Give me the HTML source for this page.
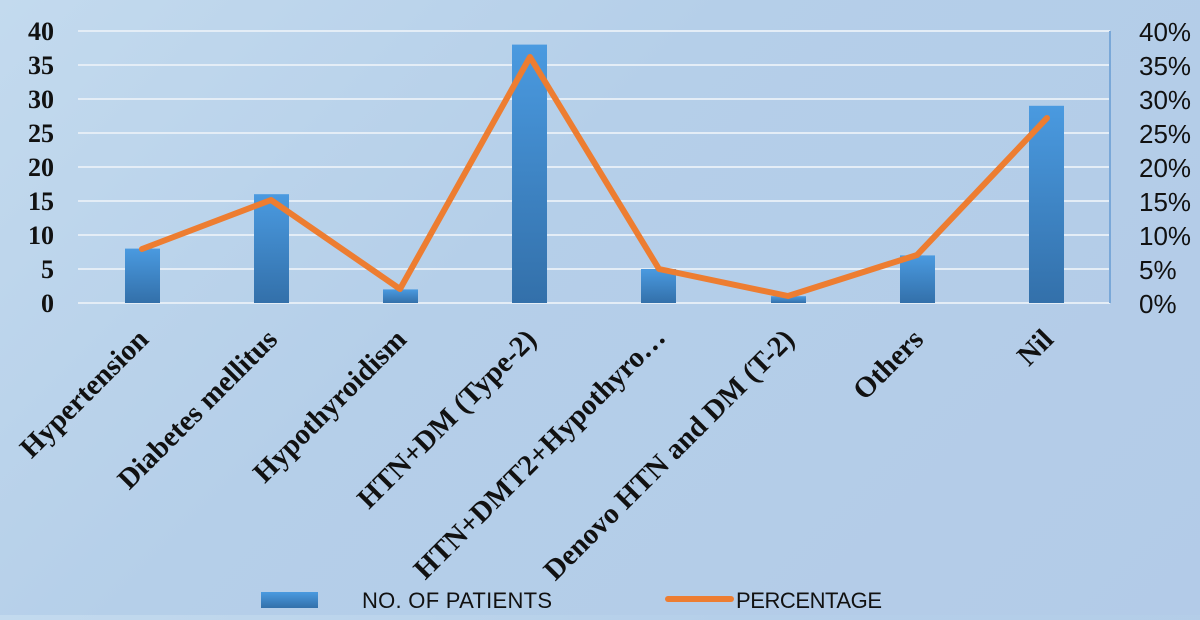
<!DOCTYPE html>
<html><head><meta charset="utf-8"><style>
html,body{margin:0;padding:0;}
body{width:1200px;height:615px;overflow:hidden;background:linear-gradient(135deg,#c3daee 0%,#b5cfe9 40%,#b3cbe8 100%);}
</style></head><body>
<svg width="1200" height="615" xmlns="http://www.w3.org/2000/svg">
<defs>
<linearGradient id="bar" x1="0" y1="0" x2="0" y2="1">
<stop offset="0" stop-color="#4a9ae0"/><stop offset="1" stop-color="#3370aa"/>
</linearGradient>
</defs>
<g stroke="#e4edf6" stroke-width="2">
<line x1="78" y1="31" x2="1110" y2="31"/><line x1="78" y1="65" x2="1110" y2="65"/>
<line x1="78" y1="99" x2="1110" y2="99"/><line x1="78" y1="133" x2="1110" y2="133"/>
<line x1="78" y1="167" x2="1110" y2="167"/><line x1="78" y1="201" x2="1110" y2="201"/>
<line x1="78" y1="235" x2="1110" y2="235"/><line x1="78" y1="269" x2="1110" y2="269"/>
<line x1="78" y1="303" x2="1110" y2="303"/>
</g>
<line x1="1110" y1="31" x2="1110" y2="303" stroke="#7aa8d8" stroke-width="2"/>
<g font-family="Liberation Serif, serif" font-weight="bold" font-size="26" text-anchor="end" fill="#111">
<text x="54" y="40">40</text><text x="54" y="74">35</text><text x="54" y="108">30</text>
<text x="54" y="142">25</text><text x="54" y="176">20</text><text x="54" y="210">15</text>
<text x="54" y="244">10</text><text x="54" y="278">5</text><text x="54" y="312">0</text>
</g>
<g font-family="Liberation Sans, sans-serif" font-size="26" fill="#111">
<text x="1139" y="41">40%</text><text x="1139" y="75">35%</text><text x="1139" y="109">30%</text>
<text x="1139" y="143">25%</text><text x="1139" y="177">20%</text><text x="1139" y="211">15%</text>
<text x="1139" y="245">10%</text><text x="1139" y="279">5%</text><text x="1139" y="313">0%</text>
</g>
<g fill="url(#bar)">
<rect x="125" y="248.6" width="35" height="54.4"/>
<rect x="254" y="194.2" width="35" height="108.8"/>
<rect x="383" y="289.4" width="35" height="13.6"/>
<rect x="512" y="44.6" width="35" height="258.4"/>
<rect x="641" y="269" width="35" height="34"/>
<rect x="771" y="296.2" width="35" height="6.8"/>
<rect x="900" y="255.4" width="35" height="47.6"/>
<rect x="1029" y="105.8" width="35" height="197.2"/>
</g>
<polyline fill="none" stroke="#ed7d31" stroke-width="6" stroke-linejoin="round" stroke-linecap="round"
points="142,249 271,200 400,289 530,57 659,269 788,296 917,255 1047,118"/>
<g font-family="Liberation Serif, serif" font-weight="bold" font-size="29" text-anchor="end" fill="#111">
<text transform="translate(150,341) rotate(-45)">Hypertension</text>
<text transform="translate(279,341) rotate(-45)">Diabetes mellitus</text>
<text transform="translate(408,341) rotate(-45)">Hypothyroidism</text>
<text transform="translate(538,341) rotate(-45)">HTN+DM (Type-2)</text>
<text transform="translate(667,339) rotate(-45)">HTN+DMT2+Hypothyro…</text>
<text transform="translate(796,341) rotate(-45)">Denovo HTN and DM (T-2)</text>
<text transform="translate(925,341) rotate(-45)">Others</text>
<text transform="translate(1055,341) rotate(-45)">Nil</text>
</g>
<rect x="261" y="592" width="57" height="16" fill="url(#bar)"/>
<text x="362" y="608" font-family="Liberation Sans, sans-serif" font-size="22" fill="#111" textLength="190">NO. OF PATIENTS</text>
<line x1="668" y1="599" x2="731" y2="599" stroke="#ed7d31" stroke-width="6" stroke-linecap="round"/>
<text x="736" y="608" font-family="Liberation Sans, sans-serif" font-size="22" fill="#111" textLength="146">PERCENTAGE</text>
</svg>
</body></html>
